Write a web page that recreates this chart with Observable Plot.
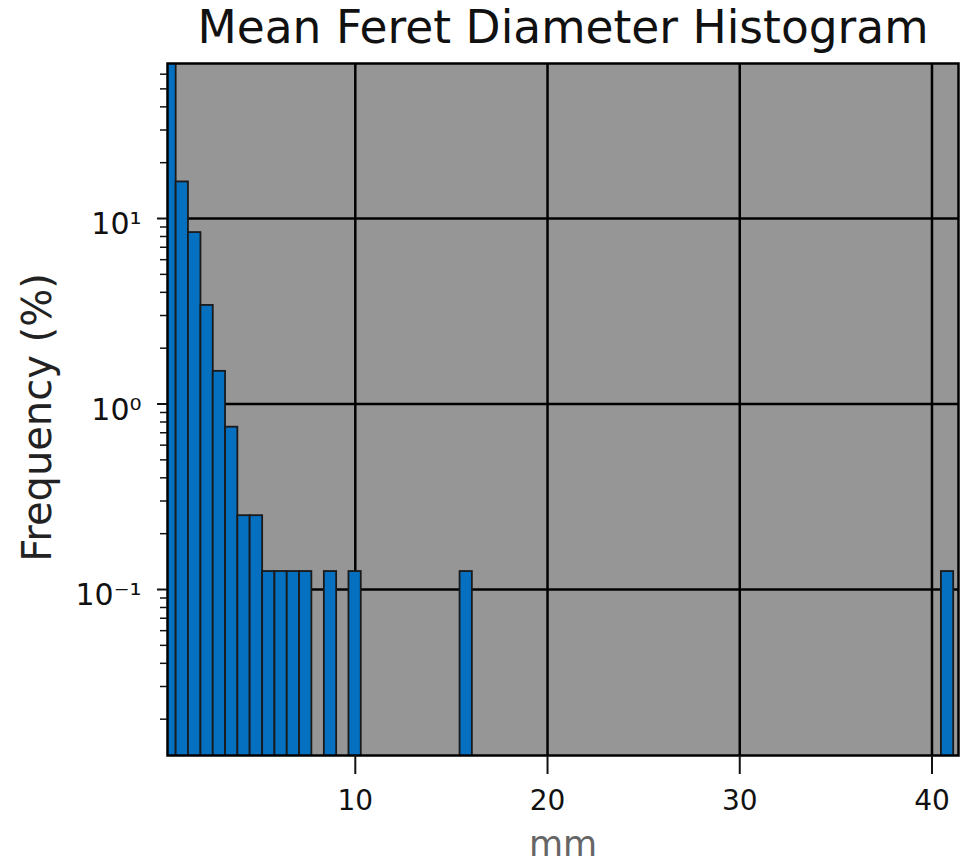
<!DOCTYPE html>
<html><head><meta charset="utf-8">
<script src="https://cdn.jsdelivr.net/npm/d3@7"></script>
<script src="https://cdn.jsdelivr.net/npm/@observablehq/plot@0.6"></script>
<style>body{margin:0;background:#fff}</style>
</head><body><div id="chart"></div>
<script>
const title = "Mean Feret Diameter Histogram";
const xLabel = "mm";
const yLabel = "Frequency (%)";
// histogram bins (mm) with a non-empty count, and their frequency (%)
const binStart = [0.04, 0.68, 1.32, 1.97, 2.61, 3.25, 3.89, 4.53, 5.18, 5.82, 6.46, 7.10, 8.39, 9.67, 15.45, 40.49];
const binEnd   = [0.68, 1.32, 1.97, 2.61, 3.25, 3.89, 4.53, 5.18, 5.82, 6.46, 7.10, 7.74, 9.03, 10.31, 16.09, 41.13];
const frequency = [68.6, 15.75, 8.4, 3.4, 1.5, 0.75, 0.25, 0.25, 0.125, 0.125, 0.125, 0.125, 0.125, 0.125, 0.125, 0.125];
const xTicks = [10, 20, 30, 40];
const yTicks = [0.1, 1, 10];
const yTickLabels = ["10\u207B\u00B9", "10\u2070", "10\u00B9"];
const yMinorTicks = [0.02, 0.03, 0.04, 0.05, 0.06, 0.07, 0.08, 0.09,
                     0.2, 0.3, 0.4, 0.5, 0.6, 0.7, 0.8, 0.9,
                     2, 3, 4, 5, 6, 7, 8, 9,
                     20, 30, 40, 50, 60];

const bins = binStart.map((s, i) => ({x1: s, x2: binEnd[i], y: frequency[i]}));

const chart = Plot.plot({
  width: 963,
  height: 862,
  marginLeft: 167,
  marginRight: 5,
  marginTop: 63,
  marginBottom: 107,
  style: {fontFamily: "DejaVu Sans", fontSize: "28px", color: "#111", background: "#fff"},
  x: {domain: [0.23, 41.38], label: null},
  y: {type: "log", domain: [0.01274, 68.5], label: null},
  marks: [
    Plot.frame({fill: "#969696", stroke: null}),
    Plot.ruleX(xTicks, {stroke: "#000", strokeWidth: 2.5}),
    Plot.ruleY(yTicks, {stroke: "#000", strokeWidth: 2.5}),
    Plot.rect(bins, {x1: "x1", x2: "x2", y1: 0.001, y2: "y", fill: "#0570c0", stroke: "#1a1a1a", strokeWidth: 1.8, clip: true}),
    Plot.frame({stroke: "#000", strokeWidth: 2.5}),
    Plot.axisX({ticks: xTicks, tickSize: 19, tickPadding: 16, strokeWidth: 2, fontSize: 28, label: null, tickFormat: d => String(d)}),
    Plot.axisY({ticks: yMinorTicks, tickSize: 7, tickFormat: () => "", strokeWidth: 1.5, label: null}),
    Plot.axisY({ticks: yTicks, tickSize: 10, tickFormat: () => "", strokeWidth: 2, label: null}),
    Plot.axisY({ticks: yTicks, tickSize: 0, tickPadding: 26, fontSize: 30, dy: 6, label: null,
                tickFormat: d => yTickLabels[yTicks.indexOf(d)]}),
    Plot.text([title], {frameAnchor: "top", lineAnchor: "bottom", dy: -21, fontSize: 45.5, fill: "#111"}),
    Plot.text([yLabel], {frameAnchor: "left", textAnchor: "middle", lineAnchor: "middle", rotate: -90, dx: -129, dy: 8, fontSize: 40, fill: "#222"}),
    Plot.text([xLabel], {frameAnchor: "bottom", lineAnchor: "bottom", dy: 100, fontSize: 35, fill: "#666"})
  ]
});
document.getElementById("chart").appendChild(chart);
</script>
</body></html>
